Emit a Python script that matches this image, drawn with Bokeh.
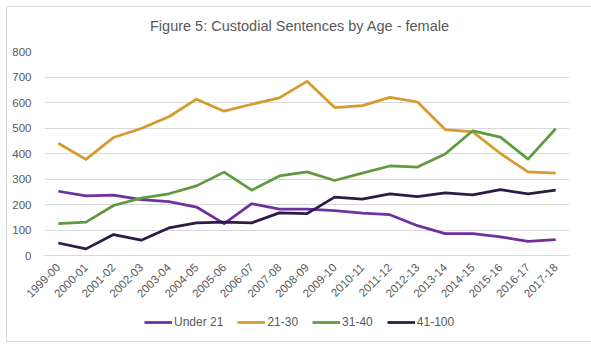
from bokeh.plotting import figure
from bokeh.layouts import column
from bokeh.models import ColumnDataSource, FactorRange, Range1d, Legend, LegendItem, FixedTicker, Div
from bokeh.embed import file_html
from bokeh.resources import INLINE
import math

years = ["1999-00", "2000-01", "2001-02", "2002-03", "2003-04", "2004-05", "2005-06",
         "2006-07", "2007-08", "2008-09", "2009-10", "2010-11", "2011-12", "2012-13",
         "2013-14", "2014-15", "2015-16", "2016-17", "2017-18"]
under_21 = [252, 234, 237, 219, 211, 190, 125, 203, 182, 182, 176, 166, 160, 117, 86, 86, 73, 55, 62]
age_21_30 = [440, 377, 463, 498, 544, 613, 566, 593, 618, 683, 580, 588, 620, 602, 494, 485, 400, 328, 323]
age_31_40 = [125, 131, 196, 225, 242, 273, 327, 256, 312, 328, 294, 323, 351, 347, 398, 489, 464, 378, 497]
age_41_100 = [49, 26, 82, 60, 108, 128, 131, 128, 167, 164, 229, 221, 242, 231, 246, 238, 258, 242, 256]
y_ticks = [0, 100, 200, 300, 400, 500, 600, 700, 800]

series = [("Under 21", under_21, "#7030A0"),
          ("21-30", age_21_30, "#D69A2D"),
          ("31-40", age_31_40, "#5E9B3F"),
          ("41-100", age_41_100, "#2E1A47")]

FONT = "Liberation Sans"
GREY = "#595959"

title = Div(text="Figure 5: Custodial Sentences by Age - female", width=575, height=26,
            styles={"text-align": "center", "font-family": FONT, "font-size": "14.5px",
                    "color": GREY, "line-height": "28px", "background-color": "white"})

p = figure(width=575, height=260, x_range=FactorRange(*years, range_padding=0),
           y_range=Range1d(0, 800), output_backend="svg", toolbar_location=None,
           min_border_left=37, min_border_right=13, min_border_top=8, min_border_bottom=47)
p.x_range.factor_padding = 0
p.outline_line_color = None
p.background_fill_color = "white"
p.border_fill_color = "white"

p.yaxis.ticker = FixedTicker(ticks=y_ticks)
p.yaxis.axis_line_color = None
p.yaxis.major_tick_line_color = None
p.yaxis.minor_tick_line_color = None
p.yaxis.major_label_text_font = FONT
p.yaxis.major_label_text_font_size = "11.5px"
p.yaxis.major_label_text_color = GREY
p.yaxis.major_label_standoff = 7

p.xaxis.axis_line_color = "#D9D9D9"
p.xaxis.major_tick_line_color = None
p.xaxis.minor_tick_line_color = None
p.xaxis.major_label_orientation = math.pi / 4
p.xaxis.major_label_text_font = FONT
p.xaxis.major_label_text_font_size = "11.5px"
p.xaxis.major_label_text_color = GREY
p.xaxis.major_label_standoff = 4

p.xgrid.grid_line_color = None
p.ygrid.grid_line_color = "#D9D9D9"
p.ygrid.grid_line_width = 1

# legend in its own strip below the chart (same series, drawn out of view)
lg = figure(width=575, height=38, output_backend="svg", toolbar_location=None,
            x_range=FactorRange(*years), y_range=Range1d(-2000, -1000),
            min_border_left=0, min_border_right=0, min_border_top=0, min_border_bottom=0)
lg.axis.visible = False
lg.grid.visible = False
lg.outline_line_color = None
lg.background_fill_color = "white"
lg.border_fill_color = "white"

items = []
for name, vals, color in series:
    src = ColumnDataSource(dict(x=years, y=vals))
    p.line("x", "y", source=src, line_color=color, line_width=2.75, line_join="round")
    r = lg.line("x", "y", source=src, line_color=color, line_width=2.75)
    items.append(LegendItem(label=name, renderers=[r]))

legend = Legend(items=items, orientation="horizontal", location=(100, 12),
                glyph_width=28, glyph_height=14, label_height=14, label_standoff=2,
                spacing=14, padding=0, margin=0, border_line_color=None,
                background_fill_alpha=0, label_text_font=FONT,
                label_text_font_size="12px", label_text_color=GREY)
lg.add_layout(legend, "center")

root = column(title, p, lg, spacing=0,
              styles={"margin": "6px 0 0 6px", "border": "1px solid #D9D9D9",
                      "background-color": "white"})

open("out.html", "w").write(file_html(root, INLINE))
